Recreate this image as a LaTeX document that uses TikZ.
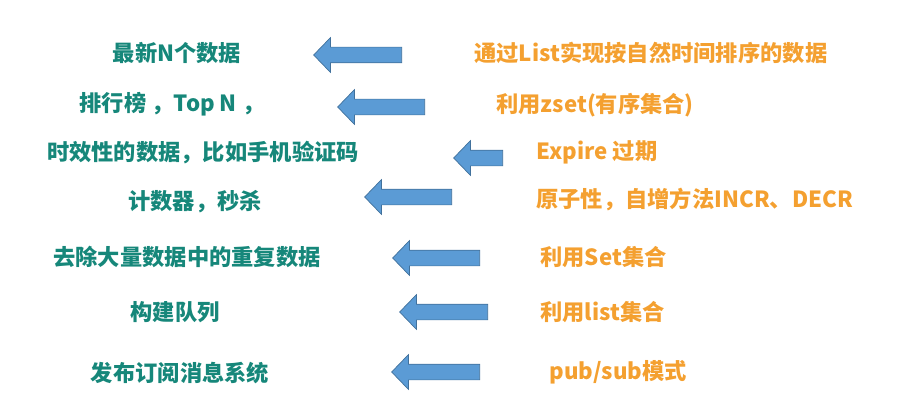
\documentclass[tikz,border=0pt]{standalone}
\usepackage{fontspec}
\setmainfont{Noto Sans CJK SC}
\usepackage{xcolor}
\usetikzlibrary{shapes.arrows}
\definecolor{UseTeal}{HTML}{16877A}
\definecolor{UseOrange}{HTML}{F4A030}
\definecolor{ArrowFill}{HTML}{5B9BD5}
\definecolor{ArrowLine}{HTML}{41719C}

\begin{document}
\begin{tikzpicture}[
    x=0.3mm,y=-0.3mm,font=\fontsize{19}{23}\selectfont\bfseries,
    usecase/.style={text=UseTeal,inner sep=1pt},
    means/.style={text=UseOrange,inner sep=1pt,anchor=west},
    blockarrow/.style={single arrow,shape border rotate=180,fill=ArrowFill,
      draw=ArrowLine,line width=0.6pt,inner xsep=0pt,inner ysep=2.25mm,
      minimum width=10.2mm,single arrow head extend=2.85mm,
      single arrow tip angle=92,minimum height=#1,anchor=tail}
  ]
    \useasboundingbox (0,0) rectangle (898,414);

    % left column: what redis is used for
    \node[usecase] (newest) at (177,53) {最新N个数据};
    \node[usecase] (rank) at (172,104) {排行榜 ，Top N ，};
    \node[usecase] (timed) at (203,153) {时效性的数据，比如手机验证码};
    \node[usecase] (counter) at (195,202) {计数器，秒杀};
    \node[usecase] (dedup) at (187,257) {去除大量数据中的重复数据};
    \node[usecase] (queue) at (175,312) {构建队列};
    \node[usecase] (pubsub) at (180,373) {发布订阅消息系统};

    % right column: how it is done
    \node[means] (bylist) at (473,53) {通过List实现按自然时间排序的数据};
    \node[means] (byzset) at (495,105) {利用zset(有序集合)};
    \node[means] (byexpire) at (535,152) {Expire 过期};
    \node[means] (byincr) at (535,200) {原子性，自增方法INCR、DECR};
    \node[means] (byset) at (539,257) {利用Set集合};
    \node[means] (byqueue) at (539,312) {利用list集合};
    \node[means] (bypubsub) at (548,372) {pub/sub模式};

    % block arrows, placed by their tail
    \node[blockarrow=26.4mm] (arr1) at (402,55) {};
    \node[blockarrow=26.1mm] (arr2) at (425,107) {};
    \node[blockarrow=14.7mm] (arr3) at (503,158) {};
    \node[blockarrow=26.1mm] (arr4) at (452,197) {};
    \node[blockarrow=26.1mm] (arr5) at (480,258) {};
    \node[blockarrow=26.4mm] (arr6) at (488,312) {};
    \node[blockarrow=26.4mm] (arr7) at (480,372) {};
\end{tikzpicture}
\end{document}
